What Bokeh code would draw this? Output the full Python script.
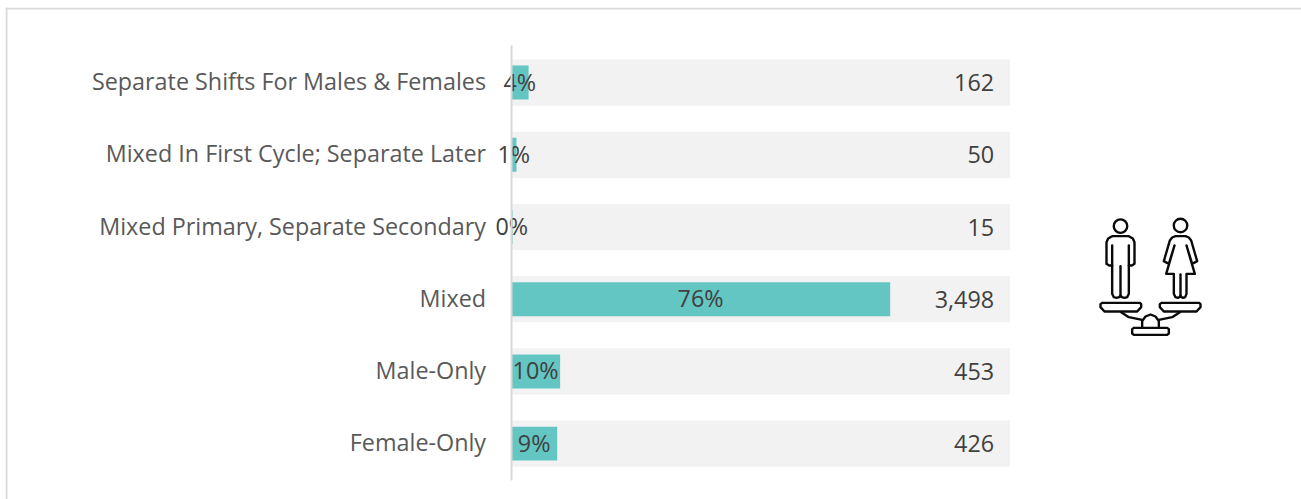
from bokeh.plotting import figure
from bokeh.models import Range1d, BoxAnnotation, FixedTicker
from bokeh.embed import file_html
from bokeh.resources import INLINE
from bokeh.core.properties import value

categories = ["Separate Shifts For Males & Females", "Mixed In First Cycle; Separate Later",
              "Mixed Primary, Separate Secondary", "Mixed", "Male-Only", "Female-Only"]
counts = [162, 50, 15, 3498, 453, 426]
pct_labels = ["4%", "1%", "0%", "76%", "10%", "9%"]
count_labels = ["162", "50", "15", "3,498", "453", "426"]

total = sum(counts)
shares = [c / total * 100 for c in counts]
ys = list(range(len(categories)))
label_ticks = [y - 0.02 for y in ys]

FONT = "Open Sans"
SIZE = "17.5pt"
W, H = 1296, 492
p = figure(width=W, height=H, output_backend="svg", toolbar_location=None,
           y_range=Range1d(5.774, -1.040), x_range=Range1d(-101.3, 158.4),
           min_border_left=0, min_border_right=0, min_border_top=0, min_border_bottom=0,
           outline_line_color=None, background_fill_color="white", border_fill_color="white")
p.styles = {"position": "absolute", "left": "5px", "top": "7px"}
p.grid.visible = False
p.xaxis.visible = False

ax = p.yaxis[0]
ax.fixed_location = 0
ax.bounds = (-0.51, 5.51)
ax.ticker = FixedTicker(ticks=label_ticks)
ax.major_label_overrides = dict(zip(label_ticks, categories))
ax.axis_line_color = "#d9d9d9"
ax.axis_line_width = 2
ax.major_tick_line_color = None
ax.minor_tick_line_color = None
ax.major_label_standoff = 19
ax.major_label_text_font = FONT
ax.major_label_text_font_size = SIZE
ax.major_label_text_color = "#595959"

p.hbar(y=ys, left=0, right=[100] * 6, height=0.64, color="#f2f2f2", line_color=None)
p.hbar(y=ys, left=0, right=shares, height=0.47, color="#63c6c3", line_color=None)

p.text(x=[s / 2 for s in shares], y=ys, text=pct_labels, text_align="center", text_baseline="middle",
       text_font=value(FONT), text_font_size=SIZE, text_color="#404040", y_offset=-1)
p.text(x=[96.8] * 6, y=ys, text=count_labels, text_align="right", text_baseline="middle",
       text_font=value(FONT), text_font_size=SIZE, text_color="#404040")

# card border (top and left only)
for kw in (dict(left=0, right=W, top=0, bottom=2), dict(left=0, right=2, top=0, bottom=H)):
    p.add_layout(BoxAnnotation(left_units="canvas", right_units="canvas", top_units="canvas",
                               bottom_units="canvas", fill_color="#d9d9d9", fill_alpha=1,
                               line_color=None, level="overlay", **kw))

# pictogram: decoration, drawn in page pixels on its own ranges
p.extra_x_ranges["px"] = Range1d(5, 1301)
p.extra_y_ranges["px"] = Range1d(499, 7)

def Z(pts):
    return [1060 + x / 3 for x, _ in pts], [200 + y / 3 for _, y in pts]

shapes = [
    [(138,190),(138,125),(143,114),(155,107),(205,107),(217,114),(222,125),(222,190),(214,195),(205,195),(205,280),(200,290),(192,292),(184,290),(180,285),(176,290),(168,292),(160,290),(155,280),(155,195),(146,195),(138,190)],
    [(155,135),(155,195)], [(205,135),(205,195)], [(180,197),(180,285)],
    [(345,107),(375,107),(385,111),(392,120),(410,182),(395,190),(378,135),(403,220),(378,220),(378,280),(374,290),(368,292),(363,290),(360,285),(357,290),(352,292),(345,290),(340,280),(340,220),(317,220),(342,135),(325,190),(310,182),(328,120),(335,111),(345,107)],
    [(360,222),(360,285)],
    [(125,307),(238,307),(242,311),(242,320),(230,333),(132,333),(120,320),(120,311),(125,307)],
    [(303,307),(416,307),(420,311),(420,320),(408,333),(310,333),(298,320),(298,311),(303,307)],
    [(182,335),(205,350),(245,358)], [(358,335),(335,350),(295,358)],
    [(245,380),(245,362),(255,348),(270,342),(285,348),(295,362),(295,380)],
    [(220,382),(320,382),(325,386),(325,399),(320,403),(220,403),(215,399),(215,386),(220,382)],
]
heads = [(180, 77), (360, 75)]
p.multi_line(xs=[Z(s)[0] for s in shapes], ys=[Z(s)[1] for s in shapes], line_color="#0a0a0a", line_width=2.4,
             line_join="round", line_cap="round", x_range_name="px", y_range_name="px")
hx, hy = Z(heads)
p.scatter(x=hx, y=hy, size=13.5, marker="circle", fill_color=None, line_color="#0a0a0a", line_width=2.4,
          x_range_name="px", y_range_name="px")

open("out.html", "w").write(file_html(p, INLINE))
